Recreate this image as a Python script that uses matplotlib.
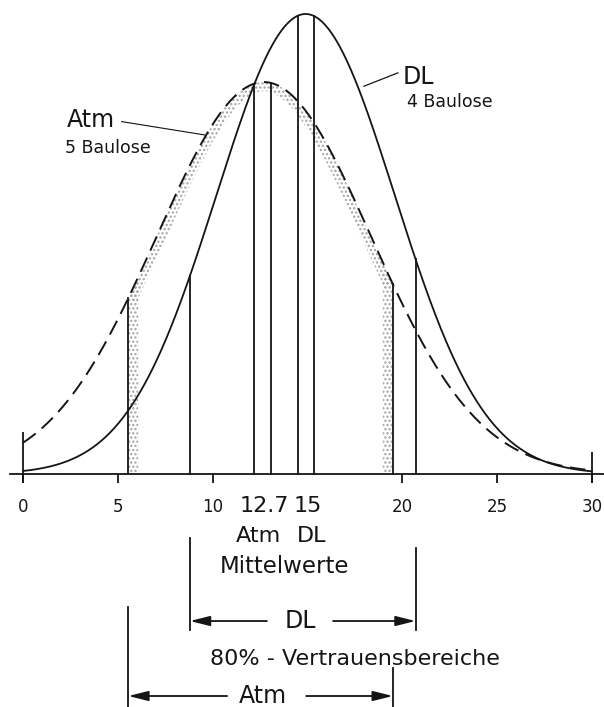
import numpy as np
import matplotlib.pyplot as plt

# values
tick_values = [0, 5, 10, 20, 25, 30]
mean_values = [12.7, 15]
mean_labels = ["12.7", "15"]
series_names = ["Atm", "DL"]
lot_labels = ["5 Baulose", "4 Baulose"]
centers = [12.7, 14.9]
sigmas = [5.65, 4.7]
peaks = [0.852, 1.0]
bounds_80 = [(5.55, 19.5), (8.8, 20.7)]
mean_bands = [(12.2, 13.05), (14.5, 15.35)]

plt.rcParams['font.family'] = ['DejaVu Sans']
plt.rcParams['hatch.linewidth'] = 1.1
INK = '#151515'
DOTS = '#a2a2a2'
LW = 1.3


def bell(x, i):
    return peaks[i] * np.exp(-0.5 * ((x - centers[i]) / sigmas[i]) ** 2)


fig = plt.figure(figsize=(6.04, 7.07), dpi=100)
ax = fig.add_axes([0, 0, 1, 1])
ax.set_xlim(-1.218, 30.64)
ax.set_ylim(-0.5065, 1.0304)
ax.axis('off')

x = np.linspace(0, 30, 800)
ax.plot(x, bell(x, 0), color=INK, lw=1.4, dashes=(8, 4))
ax.plot(x, bell(x, 1), color=INK, lw=LW)

# stippled band along the inside of the Atm curve
a, b = bounds_80[0]
xs = np.linspace(a, b, 500)
outer = np.column_stack([xs, bell(xs, 0)])
pts = ax.transData.transform(outer)
d = np.gradient(pts, axis=0)
nrm = np.column_stack([d[:, 1], -d[:, 0]])
nrm /= np.hypot(nrm[:, 0], nrm[:, 1])[:, None]
inner = ax.transData.inverted().transform(pts + 9 * nrm)
band = np.vstack([outer, inner[::-1]])
ax.fill(band[:, 0], band[:, 1], facecolor='none', edgecolor=DOTS,
        hatch='....', lw=0)
w = 10 / 18.96
for lo, hi in [(a, a + w), (b - w, b)]:
    xv = np.linspace(lo, hi, 30)
    ax.fill_between(xv, 0, bell(xv, 0), facecolor='none', edgecolor=DOTS,
                    hatch='....', lw=0)

# vertical lines: 80% bounds and mean bands, up to each curve
for i in range(2):
    for xv in list(bounds_80[i]) + list(mean_bands[i]):
        ax.plot([xv, xv], [0, bell(xv, i)], color=INK, lw=LW)

# base line and ticks
ax.plot([-0.69, 30.64], [0, 0], color=INK, lw=LW)
ax.vlines(tick_values, -0.0196, 0, color=INK, lw=LW)
ax.vlines([0], -0.0196, 0.092, color=INK, lw=LW)
ax.vlines([30], -0.0196, 0.048, color=INK, lw=LW)
for v in tick_values:
    ax.text(v, -0.0826, str(v), ha='center', va='baseline', fontsize=12, color=INK)

# mean labels
for v, lab in zip(mean_values, mean_labels):
    ax.text(v, -0.0826, lab, ha='center', va='baseline', fontsize=16, color=INK)
ax.text(12.4, -0.147, series_names[0], ha='center', va='baseline', fontsize=16, color=INK)
ax.text(15.22, -0.147, series_names[1], ha='center', va='baseline', fontsize=16, color=INK)
ax.text(13.8, -0.215, "Mittelwerte", ha='center', va='baseline', fontsize=16.5, color=INK)

# curve labels with leaders
ax.text(20.03, 0.848, series_names[1], ha='left', va='baseline', fontsize=17, color=INK)
ax.text(20.23, 0.797, lot_labels[1], ha='left', va='baseline', fontsize=12.5, color=INK)
ax.plot([17.98, 19.77], [0.843, 0.872], color=INK, lw=0.9)
ax.text(2.30, 0.755, series_names[0], ha='left', va='baseline', fontsize=17, color=INK)
ax.text(2.21, 0.697, lot_labels[0], ha='left', va='baseline', fontsize=12.5, color=INK)
ax.plot([5.2, 9.59], [0.766, 0.737], color=INK, lw=0.8)

# 80% confidence range brackets
arrow = dict(arrowstyle='-|>,head_length=1.2,head_width=0.3', color=INK, lw=LW,
             shrinkA=0, shrinkB=0, mutation_scale=10)


def bracket(lo, hi, y, gap_lo, gap_hi, top_lo, top_hi, bottom, label, label_x):
    ax.annotate('', xy=(lo, y), xytext=(gap_lo, y), arrowprops=arrow)
    ax.annotate('', xy=(hi, y), xytext=(gap_hi, y), arrowprops=arrow)
    ax.plot([lo, lo], [top_lo, bottom], color=INK, lw=LW)
    ax.plot([hi, hi], [top_hi, bottom], color=INK, lw=LW)
    ax.text(label_x, y, label, ha='center', va='center', fontsize=17, color=INK)


bracket(bounds_80[1][0], bounds_80[1][1], -0.3196, 12.86, 16.35,
        -0.139, -0.161, -0.339, series_names[1], 14.63)
ax.text(17.5, -0.415, "80% - Vertrauensbereiche", ha='center', va='baseline',
        fontsize=16, color=INK)
bracket(bounds_80[0][0], bounds_80[0][1], -0.4826, 10.76, 14.93,
        -0.289, -0.422, -0.5065, series_names[0], 12.65)

fig.savefig('out.png', dpi=100)
